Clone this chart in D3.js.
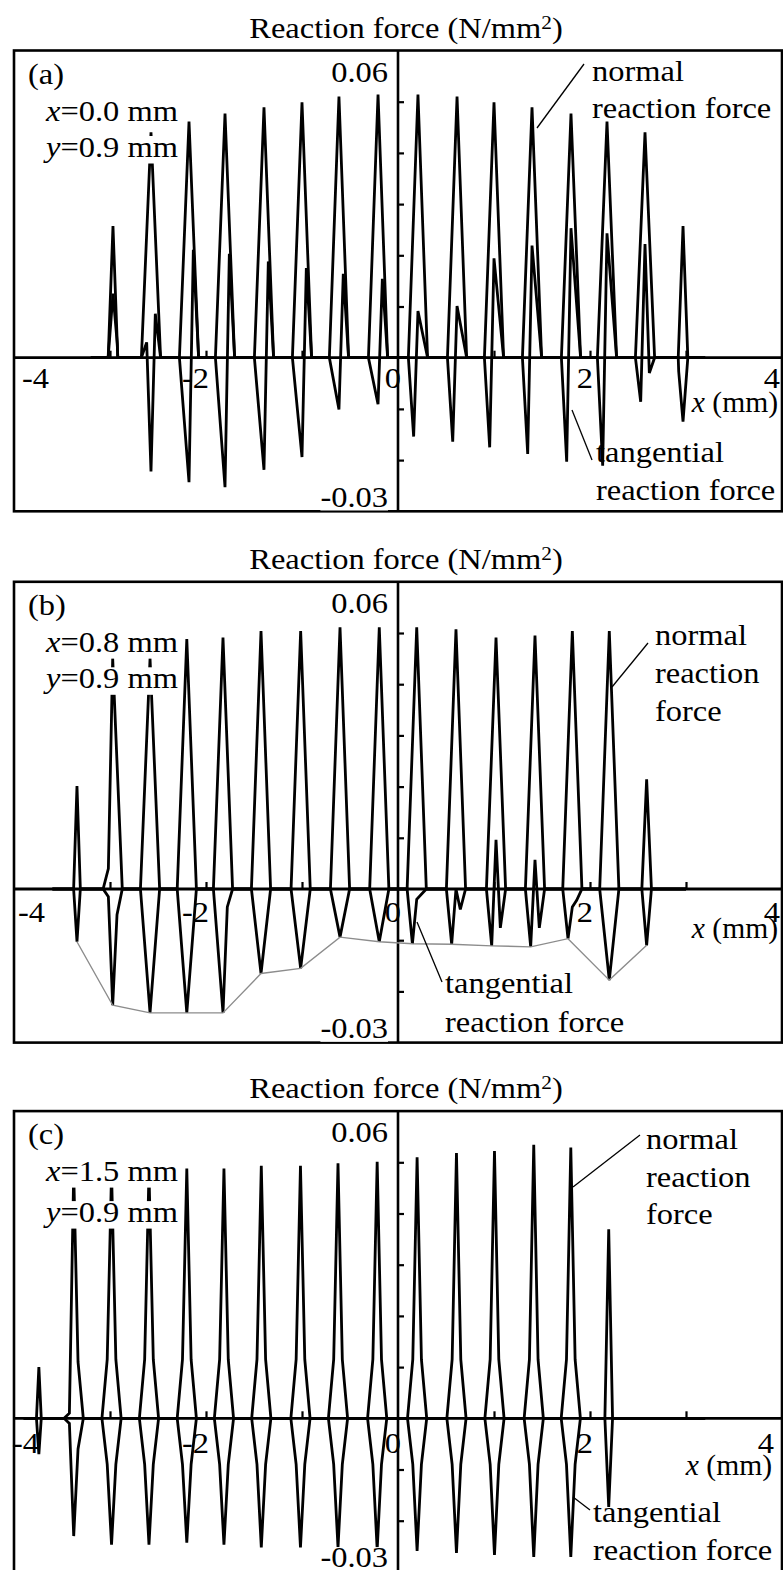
<!DOCTYPE html>
<html><head><meta charset="utf-8">
<script src="https://cdn.jsdelivr.net/npm/d3@7"></script>
<style>html,body{margin:0;padding:0;background:#fff;} svg{display:block;}</style>
</head><body>
<svg id="chart" width="783" height="1570"></svg>
<script>
// Node offsets (mm) around each contact point: left node, contact node, right node
const nodeOffsets = [-0.045, 0, 0.045];

// ---- (a) x = 0.0 mm ----
const contactsA = [-2.969, -2.573, -2.177, -1.802, -1.396, -1.0, -0.615, -0.208, 0.208, 0.615, 1.0, 1.396, 1.802, 2.177, 2.573, 2.969];
const halfBaseA = [0.05, 0.1, 0.1, 0.1, 0.1, 0.1, 0.1, 0.1, 0.1, 0.1, 0.1, 0.1, 0.1, 0.1, 0.1, 0.05];
const normalA = [
  [null, 0.0257, null], [null, 0.0440, null], [null, 0.0461, null], [null, 0.0477, null],
  [null, 0.0489, null], [null, 0.0499, null], [null, 0.0510, null], [null, 0.0514, null],
  [null, 0.0514, null], [null, 0.0510, null], [null, 0.0499, null], [null, 0.0489, null],
  [null, 0.0477, null], [null, 0.0461, null], [null, 0.0440, null], [null, 0.0257, null]
];
const tangentA = [
  [null, 0.0125, 0.0027], [0.003, -0.0222, 0.0086], [null, -0.0243, 0.0211], [null, -0.0253, 0.0203],
  [null, -0.0219, 0.0188], [null, -0.0194, 0.0175], [null, -0.0101, 0.0164], [null, -0.0091, 0.0154],
  [-0.0154, 0.0091, null], [-0.0164, 0.0101, null], [-0.0175, 0.0194, null], [-0.0188, 0.0219, null],
  [-0.0203, 0.0253, null], [-0.0211, 0.0243, null], [-0.0086, 0.0222, -0.003], [-0.0027, -0.0125, null]
];

// ---- (b) x = 0.8 mm ----
const contactsB = [-3.344, -2.972, -2.583, -2.2, -1.823, -1.427, -1.014, -0.604, -0.195, 0.195, 0.604, 1.021, 1.427, 1.816, 2.201, 2.59];
const halfBaseB = [0.035, 0.1, 0.1, 0.1, 0.1, 0.1, 0.1, 0.1, 0.1, 0.1, 0.1, 0.1, 0.1, 0.1, 0.1, 0.05];
const normalB = [
  [null, 0.0201, null], [0.004, 0.0450, null], [null, 0.0450, null], [null, 0.0488, null],
  [null, 0.0491, null], [null, 0.0504, null], [null, 0.0504, null], [null, 0.0511, null],
  [null, 0.0511, null], [null, 0.0511, null], [null, 0.0507, null], [null, 0.0491, null],
  [null, 0.0495, null], [null, 0.0504, null], [null, 0.0504, null], [null, 0.0214, null]
];
const tangentB = [
  [null, -0.0103, null], [-0.0015, -0.0227, -0.005], [null, -0.0242, null], [null, -0.0242, null],
  [null, -0.0242, -0.0035], [null, -0.0165, null], [null, -0.0155, null], [null, -0.0094, null],
  [null, -0.0103, null], [-0.0107, -0.002, null], [-0.0108, 0.0, -0.004], [-0.0111, 0.0096, -0.0076],
  [-0.0113, 0.0057, -0.0076], [-0.0097, -0.0035, -0.0022], [null, -0.0178, null], [null, -0.0110, null]
];

// ---- (c) x = 1.5 mm ----
const contactsC = [-3.741, -3.378, -2.984, -2.594, -2.2, -1.813, -1.424, -1.016, -0.625, -0.217, 0.199, 0.609, 1.005, 1.414, 1.8, 2.195];
const halfBaseC = [0.025, 0.1, 0.1, 0.1, 0.1, 0.1, 0.1, 0.1, 0.1, 0.1, 0.1, 0.1, 0.1, 0.1, 0.1, 0.04];
const normalC = [
  [null, 0.0100, null], [0.001, 0.0480, 0.011], [0.0115, 0.0480, 0.0115], [0.0115, 0.0480, 0.0115],
  [0.0115, 0.0488, 0.0115], [0.0115, 0.0488, 0.0115], [0.0115, 0.0493, 0.0115], [0.0115, 0.0493, 0.0115],
  [0.0115, 0.0498, 0.0115], [0.0115, 0.0501, 0.0115], [0.0115, 0.0510, 0.0115], [0.0115, 0.0518, 0.0115],
  [0.0115, 0.0522, 0.0115], [0.0115, 0.0534, 0.0115], [0.0115, 0.0529, 0.0115], [null, 0.0369, null]
];
const tangentC = [
  [null, -0.0070, null], [-0.001, -0.0230, -0.006], [-0.009, -0.0247, -0.009], [-0.009, -0.0247, -0.009],
  [-0.009, -0.0243, -0.009], [-0.009, -0.0247, -0.009], [-0.009, -0.0252, -0.009], [-0.009, -0.0252, -0.009],
  [-0.009, -0.0252, -0.009], [-0.009, -0.0256, -0.009], [-0.009, -0.0259, -0.009], [-0.009, -0.0263, -0.009],
  [-0.009, -0.0267, -0.009], [-0.009, -0.0271, -0.009], [-0.009, -0.0271, -0.009], [null, -0.0173, null]
];

// Axis ticks and labels
const xTickValues = [-3, -2, -1, 1, 2, 3];
const xTickLabels = [-4, -2, 0, 2, 4];
const yTickValues = [-0.02, -0.01, 0.01, 0.02, 0.03, 0.04, 0.05];
const yDomain = [-0.03, 0.06];
const xDomain = [-4, 4];

const FONT = "'Liberation Serif', 'Times New Roman', serif";
const FS = 29, SX = 1.12;

const panels = [
  { tag: "(a)", pos: "0.0", top: 50.5, span: [-3.2, 3.2], contacts: contactsA, halfBase: halfBaseA,
    normal: normalA, tangent: tangentA, envelope: false,
    yLineBase: 106.5, tickLabelDy: 30.5, xUnitDy: 54, firstLabelX: 22, lastLabelX: 780,
    normalText: { x: 592, ys: [80.5, 118.3], lines: ["normal", "reaction force"], leader: [[584, 64], [537, 128]] },
    tangText: { x: 596, ys: [461.7, 500], lines: ["tangential", "reaction force"], leader: [[572, 410], [592, 460]] } },
  { tag: "(b)", pos: "0.8", top: 581.8, span: [-3.6, 3.0], contacts: contactsB, halfBase: halfBaseB,
    normal: normalB, tangent: tangentB, envelope: true,
    yLineBase: 106.5, tickLabelDy: 32.7, xUnitDy: 49.3, firstLabelX: 18, lastLabelX: 780,
    normalText: { x: 655, ys: [645, 683.3, 720.7], lines: ["normal", "reaction", "force"], leader: [[648, 643], [612, 687]] },
    tangText: { x: 445, ys: [993.3, 1031.7], lines: ["tangential", "reaction force"], leader: [[417, 922], [442, 982]] } },
  { tag: "(c)", pos: "1.5", top: 1111.1, span: [-3.9, 3.2], contacts: contactsC, halfBase: halfBaseC,
    normal: normalC, tangent: tangentC, envelope: false,
    yLineBase: 111, tickLabelDy: 35, xUnitDy: 56.7, firstLabelX: 12, lastLabelX: 774,
    normalText: { x: 646, ys: [1149.3, 1186.7, 1224], lines: ["normal", "reaction", "force"], leader: [[640, 1135], [573, 1187]] },
    tangText: { x: 593, ys: [1521.7, 1560], lines: ["tangential", "reaction force"], leader: [[573, 1497], [590, 1510]] } }
];

const svg = d3.select("#chart");
const x = d3.scaleLinear().domain(xDomain).range([14, 782]);
const PH = 460.8;

function seriesPoints(p, values) {
  const pts = [[p.span[0], 0]];
  p.contacts.forEach((c, i) => {
    pts.push([c - p.halfBase[i], 0]);
    values[i].forEach((v, j) => { if (v !== null) pts.push([c + nodeOffsets[j], v]); });
    pts.push([c + p.halfBase[i], 0]);
  });
  pts.push([p.span[1], 0]);
  return pts;
}

function stretchedText(g, tx, ty, anchor, sx) {
  return g.append("text")
    .attr("transform", `translate(${tx},${ty}) scale(${sx || SX},1)`)
    .attr("text-anchor", anchor || "start")
    .attr("font-family", FONT).attr("font-size", FS).attr("fill", "#000");
}

panels.forEach(p => {
  const g = svg.append("g");
  const y = d3.scaleLinear().domain(yDomain).range([p.top + PH, p.top]);
  const y0 = y(0), x0 = x(0);

  // title
  const title = stretchedText(g, 406, p.top - 13, "middle");
  title.append("tspan").text("Reaction force (N/mm");
  title.append("tspan").attr("font-size", 19).attr("dy", -9).text("2");
  title.append("tspan").attr("dy", 9).text(")");

  // tick labels along the x axis (drawn beneath the curves)
  xTickLabels.forEach(v => {
    const first = v === xDomain[0];
    const last = v === xDomain[1];
    const tx = first ? p.firstLabelX : (last ? p.lastLabelX : x(v) + 3);
    stretchedText(g, tx, y0 + p.tickLabelDy, first ? "start" : "end").text(v);
  });
  const unit = stretchedText(g, p.lastLabelX - 2, y0 + p.xUnitDy, "end", 1.02);
  unit.append("tspan").attr("font-style", "italic").text("x");
  unit.append("tspan").text(" (mm)");

  // axes through the origin
  g.append("line").attr("x1", x(xDomain[0])).attr("x2", x(xDomain[1])).attr("y1", y0).attr("y2", y0)
    .attr("stroke", "#000").attr("stroke-width", 2.8);
  g.append("line").attr("x1", x0).attr("x2", x0).attr("y1", y(yDomain[1])).attr("y2", y(yDomain[0]))
    .attr("stroke", "#000").attr("stroke-width", 2.6);

  const xAx = g.append("g").attr("transform", `translate(0,${y0})`)
    .call(d3.axisTop(x).tickValues(xTickValues).tickSize(7).tickFormat(""));
  const yAx = g.append("g").attr("transform", `translate(${x0},0)`)
    .call(d3.axisRight(y).tickValues(yTickValues).tickSize(6).tickFormat(""));
  [xAx, yAx].forEach(a => {
    a.select(".domain").remove();
    a.selectAll(".tick line").attr("stroke", "#000").attr("stroke-width", 2.2);
  });

  // force curves
  const line = d3.line().x(d => x(d[0])).y(d => y(d[1]));
  const clipId = "clip" + p.tag.replace(/[()]/g, "");
  g.append("clipPath").attr("id", clipId).append("rect")
    .attr("x", x(xDomain[0])).attr("y", p.top).attr("width", x(xDomain[1]) - x(xDomain[0])).attr("height", PH);
  const curves = g.append("g").attr("clip-path", `url(#${clipId})`);
  [p.normal, p.tangent].forEach(vals => {
    curves.append("path").attr("d", line(seriesPoints(p, vals)))
      .attr("fill", "none").attr("stroke", "#000").attr("stroke-width", 2.8).attr("stroke-linejoin", "miter");
  });

  // envelope of tangential minima
  if (p.envelope) {
    const env = p.contacts.map((c, i) => {
      let best = null;
      p.tangent[i].forEach((v, j) => {
        if (v !== null && (best === null || v < best[1])) best = [c + nodeOffsets[j], v];
      });
      return best;
    });
    curves.append("path").attr("d", line(env)).attr("fill", "none")
      .attr("stroke", "#8c8c8c").attr("stroke-width", 1.4);
  }

  // frame
  g.append("rect").attr("x", x(xDomain[0])).attr("y", p.top)
    .attr("width", x(xDomain[1]) - x(xDomain[0])).attr("height", PH)
    .attr("fill", "none").attr("stroke", "#000").attr("stroke-width", 2.6);

  // y-range labels
  stretchedText(g, 388, p.top + 31, "end").text("0.06");
  const lowBg = g.append("rect").attr("fill", "#fff");
  const low = stretchedText(g, 388, p.top + 456, "end").text("-0.03");
  const lb = low.node().getBBox();
  lowBg.attr("x", 388 - lb.width * SX).attr("y", p.top + 456 - 20).attr("width", lb.width * SX).attr("height", 24);

  // panel tag and location
  stretchedText(g, 28, p.top + 33).text(p.tag);
  [["x", p.pos, 70], ["y", "0.9", p.yLineBase]].forEach(([v, val, dy]) => {
    const bg = g.append("rect").attr("fill", "#fff");
    const t = stretchedText(g, 46, p.top + dy);
    t.append("tspan").attr("font-style", "italic").text(v);
    t.append("tspan").text(`=${val} mm`);
    const b = t.node().getBBox();
    bg.attr("x", 46).attr("y", p.top + dy - 21).attr("width", b.width * SX).attr("height", 27.5);
  });

  // annotations with leader lines
  [p.normalText, p.tangText].forEach(a => {
    a.lines.forEach((s, k) => stretchedText(g, a.x, a.ys[k]).text(s));
    g.append("line").attr("x1", a.leader[0][0]).attr("y1", a.leader[0][1])
      .attr("x2", a.leader[1][0]).attr("y2", a.leader[1][1])
      .attr("stroke", "#000").attr("stroke-width", 1.3);
  });
});
</script>
</body></html>
